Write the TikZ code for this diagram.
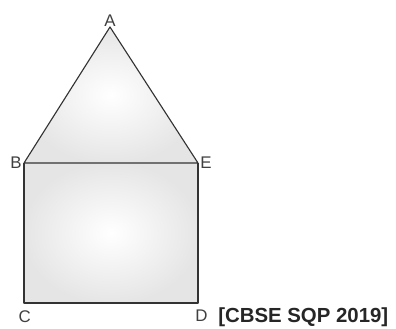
\documentclass[tikz,border=0pt]{standalone}
\usepackage{fontspec}
\setmainfont{Liberation Sans}
\usetikzlibrary{positioning}

\begin{document}
\begin{tikzpicture}[
        x=0.025cm, y=0.025cm,
        edge/.style={draw=black!80, line width=0.8pt, line join=round},
        face/.style={inner color=white, outer color=black!10},
        vlbl/.style={font=\large, text=black!75, inner sep=1pt}
      ]
      \useasboundingbox (0,0) rectangle (396,329);
      % vertices
      \coordinate (A) at (110,302);
      \coordinate (B) at (24,166);
      \coordinate (E) at (198,166);
      \coordinate (C) at (24,26);
      \coordinate (D) at (198,26);

      % shaded faces
      \shade[face] (A) -- (B) -- (E) -- cycle;
      \shade[face] (B) rectangle (D);
      \draw[edge] (A) -- (B) -- (E) -- cycle;
      \draw[edge] (B) -- (C) -- (D) -- (E);

      % labels
      \node[vlbl, above=-1pt of A] (lA) {A};
      \node[vlbl, left=0.5pt of B] (lB) {B};
      \node[vlbl, right=0.5pt of E] (lE) {E};
      \node[vlbl, below right=4pt and -5pt of C] (lC) {C};
      \node[vlbl, below right=4pt and -3pt of D] (lD) {D};
      \node[font=\fontsize{14.5}{17}\selectfont\bfseries, text=black!85,
            anchor=west, inner sep=0pt] (src) at (218,12) {[CBSE SQP 2019]};
    \end{tikzpicture}
\end{document}
